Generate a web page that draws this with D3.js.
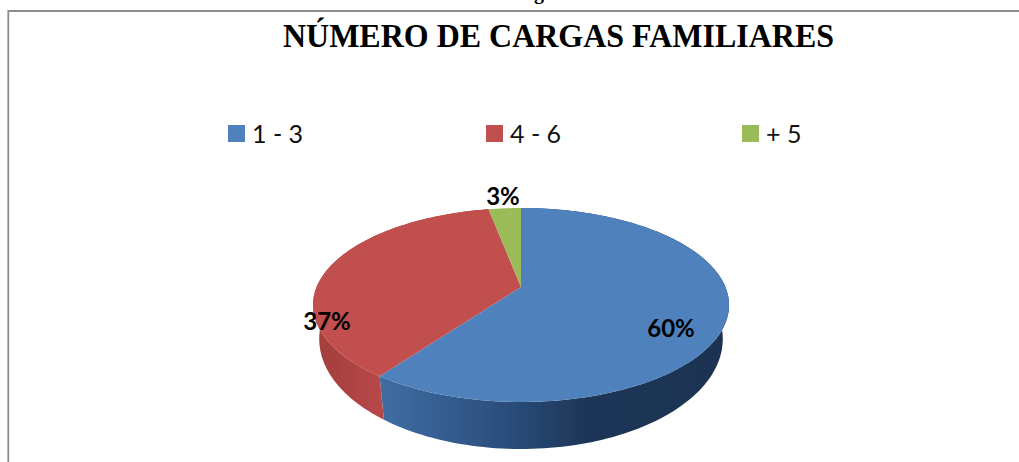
<!DOCTYPE html>
<html>
<head>
<meta charset="utf-8">
<script src="https://cdn.jsdelivr.net/npm/d3@7"></script>
<style>
    html, body { margin: 0; padding: 0; background: #fff; }
    svg { display: block; }
</style>
</head>
<body>
<svg id="chart" width="1019" height="462"></svg>
<script>
var categories = ["1 - 3", "4 - 6", "+ 5"];
var values = [60, 37, 3];
var valueLabels = ["60%", "37%", "3%"];
var colors = ["#4f81bd", "#c0504d", "#9bbb59"];

var svg = d3.select("#chart");
var defs = svg.append("defs");

// Tilted disc: the unit circle goes through a perspective projection
var CX = 521, APEX_Y = 287, RADIUS = 204.4, TILT = -0.1856, TILT_Y = 40.4;
var TOP_MID_Y = 305, WALL_MID_Y = 339, WALL_SCALE_X = 0.97, WALL_SCALE_Y = 1.134;

function topPoint(angle, r) {
    var ux = Math.sin(angle) * r, uy = -Math.cos(angle) * r;
    var d = 1 + TILT * uy;
    return [CX + RADIUS * ux / d, (APEX_Y + TILT_Y * uy) / d];
}

function bottomPoint(angle) {
    var p = topPoint(angle, 1);
    return [CX + (p[0] - CX) * WALL_SCALE_X, WALL_MID_Y + (p[1] - TOP_MID_Y) * WALL_SCALE_Y];
}

function sweep(a0, a1) {
    var n = Math.max(2, Math.ceil(Math.abs(a1 - a0) * 40));
    return d3.range(n + 1).map(function(i) { return a0 + (a1 - a0) * i / n; });
}

var line = d3.line();
var arcs = d3.pie().sort(null)(values);

// frame: only left and top edges show in the crop
svg.append("path")
    .attr("d", line([[8.3, 462], [8.3, 11], [1019, 11]]))
    .attr("fill", "none")
    .attr("stroke", "#8c8c8c")
    .attr("stroke-width", 1.8);

// bit of the document text above the frame
svg.append("text")
    .attr("x", 539)
    .attr("y", -1)
    .attr("font-family", "Liberation Serif")
    .attr("font-weight", "bold")
    .attr("font-size", 20)
    .attr("text-anchor", "middle")
    .text("g");

svg.append("text")
    .attr("x", 283)
    .attr("y", 47)
    .attr("textLength", 551)
    .attr("lengthAdjust", "spacingAndGlyphs")
    .attr("font-family", "Liberation Serif")
    .attr("font-weight", "bold")
    .attr("font-size", 34)
    .text("NÚMERO DE CARGAS FAMILIARES");

// legend
var legendX = d3.scaleOrdinal().domain(categories).range([228, 486, 742]);
var legend = svg.selectAll("g.legend").data(categories).enter().append("g")
    .attr("class", "legend")
    .attr("transform", function(d) { return "translate(" + legendX(d) + ",125)"; });
legend.append("rect")
    .attr("width", 17)
    .attr("height", 17)
    .attr("fill", function(d, i) { return colors[i]; });
legend.append("text")
    .attr("x", 24)
    .attr("y", 18)
    .attr("font-family", "Lato")
    .attr("font-size", 25)
    .attr("fill", "#111")
    .text(function(d) { return d; });

// outer walls, horizontal shading
var wallStops = [
    [["0%", "#3f6da3"], ["35%", "#2b4f7e"], ["60%", "#1d3658"], ["100%", "#1b3352"]],
    [["0%", "#a33f3c"], ["100%", "#b8474a"]]
];
var wallIds = ["wallBlue", "wallRed"];
var wallExtent = [[380, 725], [318, 384]];
wallStops.forEach(function(stops, i) {
    var g = defs.append("linearGradient")
        .attr("id", wallIds[i])
        .attr("gradientUnits", "userSpaceOnUse")
        .attr("x1", wallExtent[i][0])
        .attr("x2", wallExtent[i][1])
        .attr("y1", 0).attr("y2", 0);
    g.selectAll("stop").data(stops).enter().append("stop")
        .attr("offset", function(d) { return d[0]; })
        .attr("stop-color", function(d) { return d[1]; });
});

var blur = defs.append("filter").attr("id", "soft");
blur.append("feGaussianBlur").attr("stdDeviation", 0.7);

var pie = svg.append("g").attr("filter", "url(#soft)");

pie.selectAll("path.wall").data(arcs.slice(0, 2)).enter().append("path")
    .attr("class", "wall")
    .attr("d", function(d) {
        var a = sweep(d.startAngle, d.endAngle);
        var outer = a.map(function(t) { return topPoint(t, 1); });
        var inner = a.slice().reverse().map(bottomPoint);
        return line(outer.concat(inner)) + "Z";
    })
    .attr("fill", function(d, i) { return "url(#" + wallIds[i] + ")"; });

pie.selectAll("path.slice").data(arcs).enter().append("path")
    .attr("class", "slice")
    .attr("d", function(d) {
        var pts = sweep(d.startAngle, d.endAngle).map(function(t) { return topPoint(t, 1); });
        return line([topPoint(0, 0)].concat(pts)) + "Z";
    })
    .attr("fill", function(d, i) { return colors[i]; });

// percent labels
var labelPos = [[671, 337], [327, 330], [503, 205]];
svg.selectAll("text.value").data(valueLabels).enter().append("text")
    .attr("class", "value")
    .attr("x", function(d, i) { return labelPos[i][0]; })
    .attr("y", function(d, i) { return labelPos[i][1]; })
    .attr("text-anchor", "middle")
    .attr("font-family", "Lato")
    .attr("font-weight", "bold")
    .attr("font-size", 24)
    .attr("fill", "#000")
    .text(function(d) { return d; });
</script>
</body>
</html>
